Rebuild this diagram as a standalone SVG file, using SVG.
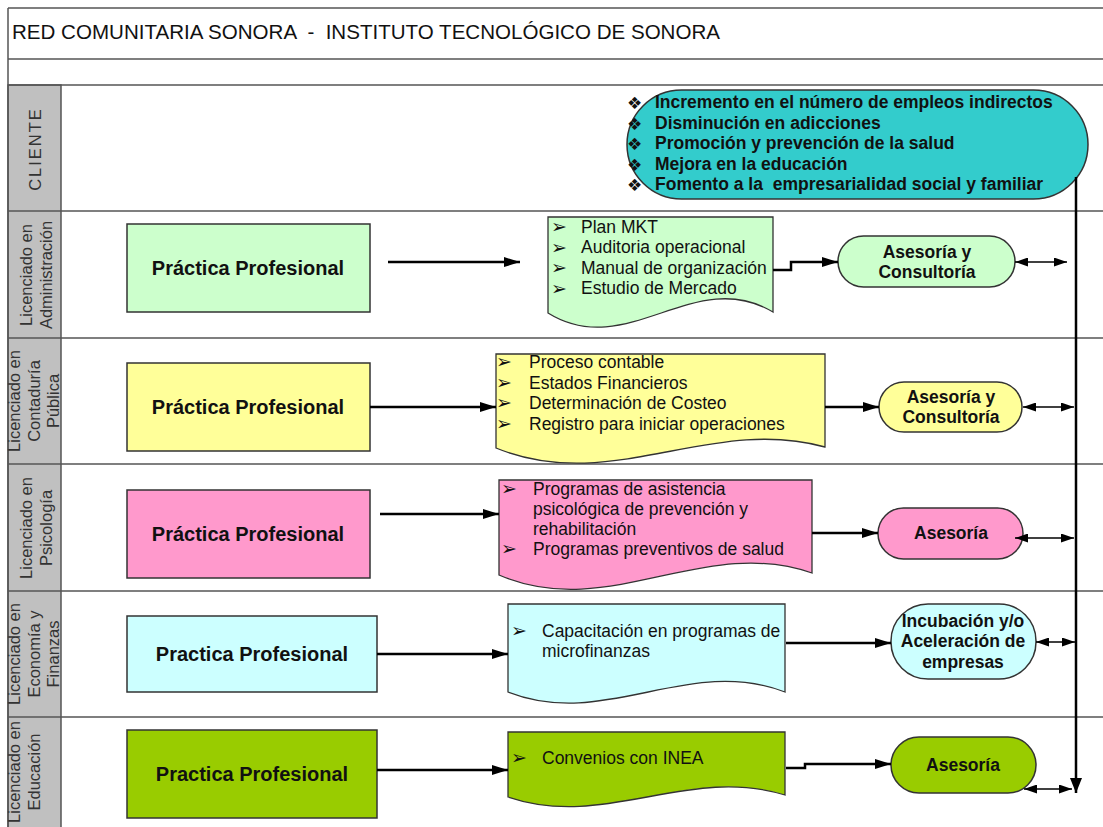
<svg xmlns="http://www.w3.org/2000/svg" width="1103" height="827" viewBox="0 0 1103 827">
<defs>
<style>
text{font-family:"Liberation Sans",Arial,sans-serif;fill:#111}
.grid{stroke:#555;stroke-width:1.5;fill:none}
.lanehd{fill:#c0c0c0;stroke:#555;stroke-width:1.5}
.lbl{font-size:16.5px;fill:#333;text-anchor:middle}
.box{stroke:#333;stroke-width:1.5}
.doc{stroke:#333;stroke-width:1.3}
.pp{font-size:20px;font-weight:bold;text-anchor:middle}
.dt{font-size:17.5px}
.st{font-size:17.5px;font-weight:bold;text-anchor:middle}
.ct{font-size:17.5px;font-weight:bold;white-space:pre}
.bul{font-family:"DejaVu Sans",sans-serif;font-size:19px}
.cb{font-family:"DejaVu Sans",sans-serif;font-size:17px}
.cn{stroke:#000;stroke-width:2.5;fill:none}
.dbl{stroke:#000;stroke-width:1.6;fill:none}
</style>
<marker id="ah" markerUnits="userSpaceOnUse" markerWidth="16" markerHeight="10" refX="16" refY="5" orient="auto">
<path d="M0,0 L16,5 L0,10 Z" fill="#000"/>
</marker>
<marker id="as" markerUnits="userSpaceOnUse" markerWidth="13" markerHeight="9" refX="13" refY="4.5" orient="auto-start-reverse">
<path d="M0,0 L13,4.5 L0,9 Z" fill="#000"/>
</marker>
<marker id="av" markerUnits="userSpaceOnUse" markerWidth="15" markerHeight="12" refX="15" refY="6" orient="auto">
<path d="M0,0 L15,6 L0,12 Z" fill="#000"/>
</marker>
</defs>
<rect width="1103" height="827" fill="#fff"/>

<g id="frame">
<rect class="lanehd" x="8" y="85" width="53" height="750"/>
<path class="grid" d="M8,8 H1103 M8,8 V827 M8,59 H1103 M8,85 H1103 M8,211 H1103 M8,338 H1103 M8,464 H1103 M8,591 H1103 M8,717 H1103"/>
<text x="12" y="39" font-size="20.4" textLength="708" lengthAdjust="spacingAndGlyphs" fill="#222" style="white-space:pre">RED COMUNITARIA SONORA  -  INSTITUTO TECNOLÓGICO DE SONORA</text>
</g>

<g id="lane-labels">
<text class="lbl" transform="translate(41,149) rotate(-90)" letter-spacing="2" font-size="15">CLIENTE</text>
<text class="lbl" transform="translate(32,275) rotate(-90)"><tspan x="0" y="0">Licenciado en</tspan><tspan x="0" y="19.5">Administración</tspan></text>
<text class="lbl" transform="translate(20,401) rotate(-90)"><tspan x="0" y="0">Licenciado en</tspan><tspan x="0" y="19.5">Contaduría</tspan><tspan x="0" y="39">Pública</tspan></text>
<text class="lbl" transform="translate(32,528) rotate(-90)"><tspan x="0" y="0">Licenciado en</tspan><tspan x="0" y="19.5">Psicología</tspan></text>
<text class="lbl" transform="translate(20,654) rotate(-90)"><tspan x="0" y="0">Licenciado en</tspan><tspan x="0" y="19.5">Economía y</tspan><tspan x="0" y="39">Finanzas</tspan></text>
<text class="lbl" transform="translate(20,772) rotate(-90)"><tspan x="0" y="0">Licenciado en</tspan><tspan x="0" y="19.5">Educación</tspan></text>
</g>

<g id="cliente">
<rect class="box" x="627" y="90" width="461" height="109" rx="54.5" fill="#33cccc"/>
<text class="cb" x="627" y="109">❖</text>
<text class="cb" x="627" y="130">❖</text>
<text class="cb" x="627" y="150">❖</text>
<text class="cb" x="627" y="171">❖</text>
<text class="cb" x="627" y="191">❖</text>
<text class="ct" x="655" y="108">Incremento en el número de empleos indirectos</text>
<text class="ct" x="655" y="129">Disminución en adicciones</text>
<text class="ct" x="655" y="149">Promoción y prevención de la salud</text>
<text class="ct" x="655" y="170">Mejora en la educación</text>
<text class="ct" x="655" y="190">Fomento a la  empresarialidad social y familiar</text>
</g>

<g id="pp-admin">
<rect class="box" x="127" y="224" width="243" height="88" fill="#ccffcc"/>
<text class="pp" x="248" y="275">Práctica Profesional</text>
</g>
<g id="doc-admin">
<path class="doc" fill="#ccffcc" d="M548,217 H773 V312 C694,265 627,362 548,313 Z"/>
<text class="bul" x="551" y="233">➢</text>
<text class="bul" x="551" y="254">➢</text>
<text class="bul" x="551" y="274">➢</text>
<text class="bul" x="551" y="295">➢</text>
<text class="dt" x="581" y="233">Plan MKT</text>
<text class="dt" x="581" y="253">Auditoria operacional</text>
<text class="dt" x="581" y="274">Manual de organización</text>
<text class="dt" x="581" y="294">Estudio de Mercado</text>
</g>
<g id="st-admin">
<rect class="box" x="838" y="236" width="177" height="51" rx="25.5" fill="#ccffcc"/>
<text class="st" x="927" y="258">Asesoría y</text>
<text class="st" x="927" y="278">Consultoría</text>
</g>

<g id="pp-cont">
<rect class="box" x="127" y="363" width="243" height="88" fill="#ffff99"/>
<text class="pp" x="248" y="414">Práctica Profesional</text>
</g>
<g id="doc-cont">
<path class="doc" fill="#ffff99" d="M496,354 H825 V447 C710,415 611,495 496,448 Z"/>
<text class="bul" x="496" y="368">➢</text>
<text class="bul" x="496" y="389">➢</text>
<text class="bul" x="496" y="409">➢</text>
<text class="bul" x="496" y="430">➢</text>
<text class="dt" x="529" y="368">Proceso contable</text>
<text class="dt" x="529" y="389">Estados Financieros</text>
<text class="dt" x="529" y="409">Determinación de Costeo</text>
<text class="dt" x="529" y="430">Registro para iniciar operaciones</text>
</g>
<g id="st-cont">
<rect class="box" x="879" y="382" width="143" height="50" rx="25" fill="#ffff99"/>
<text class="st" x="951" y="403">Asesoría y</text>
<text class="st" x="951" y="423">Consultoría</text>
</g>

<g id="pp-psic">
<rect class="box" x="127" y="490" width="243" height="88" fill="#ff99cc"/>
<text class="pp" x="248" y="541">Práctica Profesional</text>
</g>
<g id="doc-psic">
<path class="doc" fill="#ff99cc" d="M499,480 H812 V573 C703,535 608,622 499,575 Z"/>
<text class="bul" x="501" y="495">➢</text>
<text class="bul" x="501" y="555">➢</text>
<text class="dt" x="533" y="495">Programas de asistencia</text>
<text class="dt" x="533" y="515">psicológica de prevención y</text>
<text class="dt" x="533" y="535">rehabilitación</text>
<text class="dt" x="533" y="555">Programas preventivos de salud</text>
</g>
<g id="st-psic">
<rect class="box" x="878" y="508" width="145" height="51" rx="25.5" fill="#ff99cc"/>
<text class="st" x="951" y="539">Asesoría</text>
</g>

<g id="pp-econ">
<rect class="box" x="127" y="616" width="250" height="76" fill="#ccffff"/>
<text class="pp" x="252" y="661">Practica Profesional</text>
</g>
<g id="doc-econ">
<path class="doc" fill="#ccffff" d="M508,604 H785 V692 C688,655 605,730 508,692 Z"/>
<text class="bul" x="511" y="637">➢</text>
<text class="dt" x="542" y="637">Capacitación en programas de</text>
<text class="dt" x="542" y="657">microfinanzas</text>
</g>
<g id="st-econ">
<rect class="box" x="891" y="604" width="145" height="75" rx="37" fill="#ccffff"/>
<text class="st" x="963" y="627">Incubación y/o</text>
<text class="st" x="963" y="647">Aceleración de</text>
<text class="st" x="963" y="668">empresas</text>
</g>

<g id="pp-educ">
<rect class="box" x="127" y="730" width="250" height="88" fill="#99cc00"/>
<text class="pp" x="252" y="781">Practica Profesional</text>
</g>
<g id="doc-educ">
<path class="doc" fill="#99cc00" d="M508,732 H785 V795 C688,765 605,830 508,797 Z"/>
<text class="bul" x="511" y="764">➢</text>
<text class="dt" x="542" y="764">Convenios con INEA</text>
</g>
<g id="st-educ">
<rect class="box" x="891" y="737" width="145" height="56" rx="28" fill="#99cc00"/>
<text class="st" x="963" y="771">Asesoría</text>
</g>

<g id="connectors">
<path class="cn" d="M388,262 H520" marker-end="url(#ah)"/>
<path class="cn" d="M773,270 H791 V262 H838" marker-end="url(#ah)"/>
<path class="cn" d="M370,407 H496" marker-end="url(#ah)"/>
<path class="cn" d="M825,407 H879" marker-end="url(#ah)"/>
<path class="cn" d="M380,514 H499" marker-end="url(#ah)"/>
<path class="cn" d="M812,533 H878" marker-end="url(#ah)"/>
<path class="cn" d="M377,654 H508" marker-end="url(#ah)"/>
<path class="cn" d="M786,643 H891" marker-end="url(#ah)"/>
<path class="cn" d="M377,770 H508" marker-end="url(#ah)"/>
<path class="cn" d="M786,768 H805 V764 H891" marker-end="url(#ah)"/>
<path class="dbl" d="M1015,262 H1067" marker-start="url(#as)" marker-end="url(#as)"/>
<path class="dbl" d="M1023,407 H1074" marker-start="url(#as)" marker-end="url(#as)"/>
<path class="dbl" d="M1015,538 H1074" marker-start="url(#as)" marker-end="url(#as)"/>
<path class="dbl" d="M1036,642 H1075" marker-start="url(#as)" marker-end="url(#as)"/>
<path class="dbl" d="M1024,789 H1072" marker-start="url(#as)" marker-end="url(#as)"/>
<path class="cn" stroke-width="3" d="M1076,177 V793" marker-end="url(#av)"/>
</g>
</svg>
